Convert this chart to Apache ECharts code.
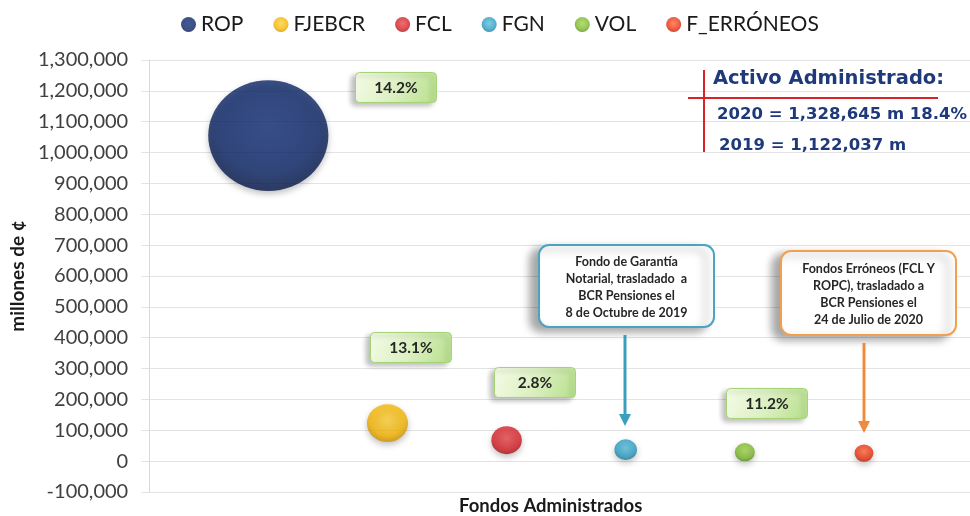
<!DOCTYPE html>
<html>
<head>
<meta charset="utf-8">
<script src="https://cdn.jsdelivr.net/npm/echarts@6/dist/echarts.min.js"></script>
<style>
  html, body { margin: 0; padding: 0; background: #fff; }
  #chart { width: 970px; height: 516px; }
</style>
</head>
<body>
<div id="chart"></div>
<script>
// fondos administrados (millones de colones)
const funds = ['ROP', 'FJEBCR', 'FCL', 'FGN', 'VOL', 'F_ERRÓNEOS'];
const fundPos = [1, 2, 3, 4, 5, 6];
const assets = [1055000, 123000, 68000, 37000, 29000, 26000];
const yTicks = { min: -100000, max: 1300000, step: 100000 };

// colores: [claro, base, oscuro]
const fundColors = [
    ['#14307a', '#0b2566', '#051644'],
    ['#ffd23a', '#f5b400', '#c98a00'],
    ['#ea4a4f', '#d41f26', '#9c1016'],
    ['#5cc0de', '#2a9cc0', '#1a7090'],
    ['#a2d54e', '#7ab62a', '#4f8418'],
    ['#ff6a3c', '#e8300f', '#b01a05']
];

const growthLabels = [
    { text: '14.2%', x: 355, y: 72 },
    { text: '13.1%', x: 370, y: 332 },
    { text: '2.8%', x: 494, y: 367 },
    { text: '11.2%', x: 726, y: 388 }
];

const chart = echarts.init(document.getElementById('chart'));

// los elementos de graphic no heredan z del grupo, se lo ponemos a todos
const onTop = (el) => {
    el.z = 100;
    if (el.children) el.children.forEach(onTop);
    return el;
};

const bubble = (i) => ({
    name: funds[i],
    type: 'scatter',
    data: [[fundPos[i], assets[i]]],
    symbolSize: (d) => { const s = 0.117 * Math.sqrt(d[1]); return [s, s * 0.92]; },
    itemStyle: {
        color: new echarts.graphic.RadialGradient(0.5, 0.42, 0.6, [
            { offset: 0, color: fundColors[i][0] },
            { offset: 0.7, color: fundColors[i][1] },
            { offset: 1, color: fundColors[i][2] }
        ]),
        shadowBlur: 6, shadowOffsetY: 3, shadowColor: 'rgba(0,0,0,0.3)'
    },
    emphasis: { disabled: true }
});

const greenBox = (g) => ({
    type: 'group', left: g.x, top: g.y,
    children: [
        { type: 'rect', shape: { width: 81, height: 30, r: 4 },
          style: {
              fill: new echarts.graphic.LinearGradient(0, 0, 1, 1, [
                  { offset: 0, color: '#f3fbe6' }, { offset: 0.5, color: '#dcf0c2' }, { offset: 1, color: '#b6df8a' }
              ]),
              stroke: '#a5d477', lineWidth: 1,
              shadowBlur: 5, shadowOffsetX: -4, shadowOffsetY: 3, shadowColor: 'rgba(0,0,0,0.25)'
          } },
        { type: 'text', x: 40.5, y: 15.5,
          style: { text: g.text, font: 'bold 15.5px Lato', fill: '#262626', align: 'center', verticalAlign: 'middle' } }
    ]
});

const callout = (x, y, w, h, stroke, lines) => ({
    type: 'group', left: x, top: y,
    children: [
        { type: 'rect', shape: { width: w, height: h, r: 10 },
          style: { fill: '#fff', stroke: stroke, lineWidth: 2,
                   shadowBlur: 8, shadowOffsetX: -8, shadowOffsetY: 4, shadowColor: 'rgba(0,0,0,0.35)' } },
        { type: 'text', x: w / 2, y: h / 2 + 1,
          style: { text: lines.join('\n'), font: 'bold 12.5px Lato', lineHeight: 17, fill: '#262626',
                   align: 'center', verticalAlign: 'middle' } }
    ]
});

const arrow = (x, y1, y2, color) => ({
    type: 'group',
    children: [
        { type: 'line', shape: { x1: x, y1: y1, x2: x, y2: y2 - 10 }, style: { stroke: color, lineWidth: 3 } },
        { type: 'polygon', shape: { points: [[x - 6, y2 - 12], [x + 6, y2 - 12], [x, y2]] }, style: { fill: color } }
    ]
});

const annotations = [
    { type: 'text', left: 459, top: 497,
      style: { text: 'Fondos Administrados', font: 'bold 18.5px Lato', fill: '#1a1a1a' } },
    ...growthLabels.map(greenBox),
    callout(538, 244, 175, 82, '#4aa3c0',
        ['Fondo de Garantía', 'Notarial, trasladado  a', 'BCR Pensiones el', '8 de Octubre de 2019']),
    callout(780, 250, 175, 84, '#f0a050',
        ['Fondos Erróneos (FCL Y', 'ROPC), trasladado a', 'BCR Pensiones el', '24 de Julio de 2020']),
    arrow(625, 335, 426, '#3a9fbd'),
    arrow(864, 343, 433, '#f08a3c'),
    // recuadro de activo administrado
    { type: 'line', shape: { x1: 688, y1: 98, x2: 938, y2: 98 }, style: { stroke: '#d8232a', lineWidth: 2 } },
    { type: 'line', shape: { x1: 704, y1: 70, x2: 704, y2: 152 }, style: { stroke: '#d8232a', lineWidth: 2 } },
    { type: 'text', left: 713, top: 69,
      style: { text: 'Activo Administrado:', font: 'bold 19.5px "DejaVu Sans"', fill: '#1f3a7a' } },
    { type: 'text', left: 717, top: 106,
      style: { text: '2020 = 1,328,645 m 18.4%', font: 'bold 16.5px "DejaVu Sans"', fill: '#1f3a7a' } },
    { type: 'text', left: 719, top: 137,
      style: { text: '2019 = 1,122,037 m', font: 'bold 16.5px "DejaVu Sans"', fill: '#1f3a7a' } }
].map(onTop);

chart.setOption({
    animation: false,
    textStyle: { fontFamily: 'Lato' },
    legend: {
        top: 9, left: 176,
        icon: 'circle', itemWidth: 15, itemHeight: 15, itemGap: 30,
        textStyle: { fontFamily: 'Lato', fontSize: 21, color: '#1a1a1a' },
        data: funds
    },
    grid: { left: 148, right: 0, top: 60, bottom: 24 },
    xAxis: {
        type: 'value', min: 0, max: 6.89,
        axisLine: { show: false }, axisTick: { show: false },
        axisLabel: { show: false }, splitLine: { show: false }
    },
    yAxis: {
        type: 'value', min: yTicks.min, max: yTicks.max, interval: yTicks.step,
        name: 'millones de ¢', nameLocation: 'middle', nameGap: 120,
        nameTextStyle: { fontSize: 19, fontWeight: 'bold', color: '#1a1a1a' },
        axisLine: { show: true, lineStyle: { color: '#d9d9d9' } },
        axisTick: { show: true, length: 8, lineStyle: { color: '#e3e3e3' } },
        axisLabel: { margin: 21, fontSize: 20, color: '#404040',
                     formatter: (v) => v.toLocaleString('en-US') },
        splitLine: { lineStyle: { color: '#e3e3e3' } }
    },
    series: funds.map((f, i) => bubble(i)),
    graphic: annotations
});
</script>
</body>
</html>
